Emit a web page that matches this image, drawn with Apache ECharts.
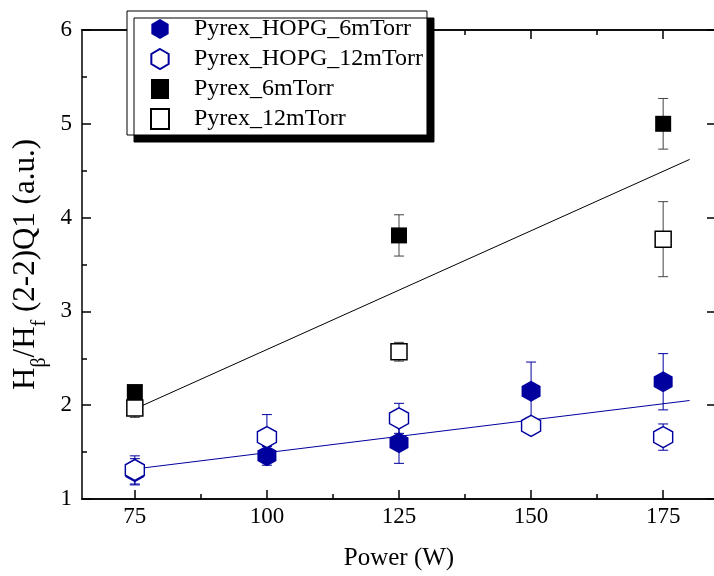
<!DOCTYPE html>
<html><head><meta charset="utf-8">
<script src="https://cdn.jsdelivr.net/npm/echarts@6/dist/echarts.min.js"></script>
<style>html,body{margin:0;padding:0;background:#fff}#c{width:714px;height:576px}</style>
</head><body><div id="c"></div>
<script>
// ---- data ----
const power = [75, 100, 125, 150, 175];
const hopg6 = [1.29, 1.46, 1.60, 2.15, 2.25];
const hopg6Err = [0.14, 0.10, 0.22, 0.31, 0.30];
const hopg12 = [1.31, 1.66, 1.86, 1.78, 1.66];
const hopg12Err = [0.15, 0.24, 0.16, 0.05, 0.14];
const pyrexPower = [75, 125, 175];
const pyrex6 = [2.14, 3.81, 5.00];
const pyrex6Err = [0.05, 0.22, 0.27];
const pyrex12 = [1.97, 2.57, 3.77];
const pyrex12Err = [0.10, 0.10, 0.40];
const fitX = [75, 180];
const fitPyrexY = [1.96, 4.62];
const fitHopgY = [1.32, 2.05];
const xTicks = [75, 100, 125, 150, 175];
const xMinorTicks = [87.5, 112.5, 137.5, 162.5];
const names = ['Pyrex_HOPG_6mTorr', 'Pyrex_HOPG_12mTorr', 'Pyrex_6mTorr', 'Pyrex_12mTorr'];

const FONT = 'Liberation Serif';
const BLUE = '#00009f';
const HEX = 'path://M0,-1L0.866,-0.5L0.866,0.5L0,1L-0.866,0.5L-0.866,-0.5Z';

function errSeries(xs, ys, es, color, z) {
  return {
    type: 'custom', z: z, silent: true,
    data: xs.map((x, i) => [x, ys[i] - es[i], ys[i] + es[i]]),
    encode: { x: 0, y: [1, 2] },
    renderItem(params, api) {
      const lo = api.coord([api.value(0), api.value(1)]);
      const hi = api.coord([api.value(0), api.value(2)]);
      const w = 5;
      const st = { stroke: color, lineWidth: 1 };
      return { type: 'group', children: [
        { type: 'line', shape: { x1: lo[0], y1: lo[1], x2: hi[0], y2: hi[1] }, style: st },
        { type: 'line', shape: { x1: lo[0] - w, y1: lo[1], x2: lo[0] + w, y2: lo[1] }, style: st },
        { type: 'line', shape: { x1: hi[0] - w, y1: hi[1], x2: hi[0] + w, y2: hi[1] }, style: st }
      ] };
    }
  };
}
function pts(xs, ys) { return xs.map((x, i) => [x, ys[i]]); }

const tickStyle = { color: '#000', width: 1.5 };
function xAx(pos, vals, len, labels) {
  return {
    type: 'value', position: pos, min: 65, max: 185,
    axisLine: { show: true, lineStyle: { color: '#000', width: 1.5 } },
    axisTick: { show: true, inside: true, length: len, customValues: vals, lineStyle: tickStyle },
    axisLabel: labels ? { show: true, customValues: vals, fontSize: 23, fontFamily: FONT, color: '#000', margin: 6 } : { show: false },
    splitLine: { show: false }
  };
}
function yAx(pos, labels) {
  return {
    type: 'value', position: pos, min: 1, max: 6, interval: 1,
    axisLine: { show: labels, lineStyle: { color: '#000', width: 1.5 } },
    axisTick: { show: true, inside: true, length: 9, lineStyle: tickStyle },
    minorTick: { show: labels, splitNumber: 2, length: 5, lineStyle: tickStyle },
    axisLabel: labels ? { show: true, fontSize: 23, fontFamily: FONT, color: '#000', margin: 10 } : { show: false },
    splitLine: { show: false }
  };
}

const xMain = xAx('bottom', xTicks, 9, true);
xMain.name = 'Power (W)';
xMain.nameLocation = 'middle';
xMain.nameGap = 47;
xMain.nameTextStyle = { fontSize: 25, fontFamily: FONT, color: '#000' };

const yMain = yAx('left', true);
yMain.name = '{a|H}{s|β}{a|/H}{s|f}{a| (2-2)Q1 (a.u.)}';
yMain.nameLocation = 'middle';
yMain.nameGap = 32;
yMain.nameTextStyle = {
  color: '#000',
  rich: {
    a: { fontSize: 31, fontFamily: FONT, color: '#000' },
    s: { fontSize: 20, fontFamily: FONT, color: '#000', padding: [28, 0, 0, 0] }
  }
};

const chart = echarts.init(document.getElementById('c'), null, { renderer: 'canvas' });
chart.setOption({
  animation: false,
  backgroundColor: '#fff',
  grid: { left: 82, top: 30, width: 634, height: 469, outerBoundsMode: 'none', containLabel: false },
  xAxis: [
    xMain,
    xAx('bottom', xMinorTicks, 5, false),
    xAx('top', xTicks, 9, false),
    xAx('top', xMinorTicks, 5, false)
  ],
  yAxis: [yMain, yAx('right', false)],
  legend: {
    orient: 'vertical', left: 127, top: 11,
    selectedMode: false,
    itemWidth: 18, itemHeight: 20, itemGap: 6,
    padding: [6, 4, 4, 23],
    backgroundColor: '#fff', borderColor: '#000', borderWidth: 1,
    shadowColor: '#000', shadowOffsetX: 7, shadowOffsetY: 7, shadowBlur: 0.01,
    textStyle: { fontSize: 24, fontFamily: FONT, color: '#000', padding: [0, 0, 0, 20] },
    data: [
      { name: names[0], icon: HEX },
      { name: names[1], icon: HEX },
      { name: names[2], icon: 'rect' },
      { name: names[3], icon: 'rect' }
    ]
  },
  series: [
    { type: 'line', data: pts(fitX, fitPyrexY), symbol: 'none', z: 1, silent: true,
      lineStyle: { color: '#000', width: 1 } },
    { type: 'line', data: pts(fitX, fitHopgY), symbol: 'none', z: 1, silent: true,
      lineStyle: { color: BLUE, width: 1 } },
    errSeries(pyrexPower, pyrex6, pyrex6Err, '#444', 2),
    errSeries(pyrexPower, pyrex12, pyrex12Err, '#444', 2),
    errSeries(power, hopg6, hopg6Err, BLUE, 2),
    errSeries(power, hopg12, hopg12Err, BLUE, 2),
    { name: names[0], type: 'scatter', data: pts(power, hopg6), symbol: HEX, symbolSize: [19, 21], z: 3,
      itemStyle: { color: BLUE, opacity: 1 } },
    { name: names[1], type: 'scatter', data: pts(power, hopg12), symbol: HEX, symbolSize: [19, 21], z: 4,
      itemStyle: { color: '#fff', borderColor: BLUE, borderWidth: 1.5, opacity: 1 } },
    { name: names[2], type: 'scatter', data: pts(pyrexPower, pyrex6), symbol: 'rect', symbolSize: 16, z: 3,
      itemStyle: { color: '#000', opacity: 1 } },
    { name: names[3], type: 'scatter', data: pts(pyrexPower, pyrex12), symbol: 'rect', symbolSize: 16, z: 4,
      itemStyle: { color: '#fff', borderColor: '#000', borderWidth: 1.5, opacity: 1 } }
  ]
});
</script></body></html>
